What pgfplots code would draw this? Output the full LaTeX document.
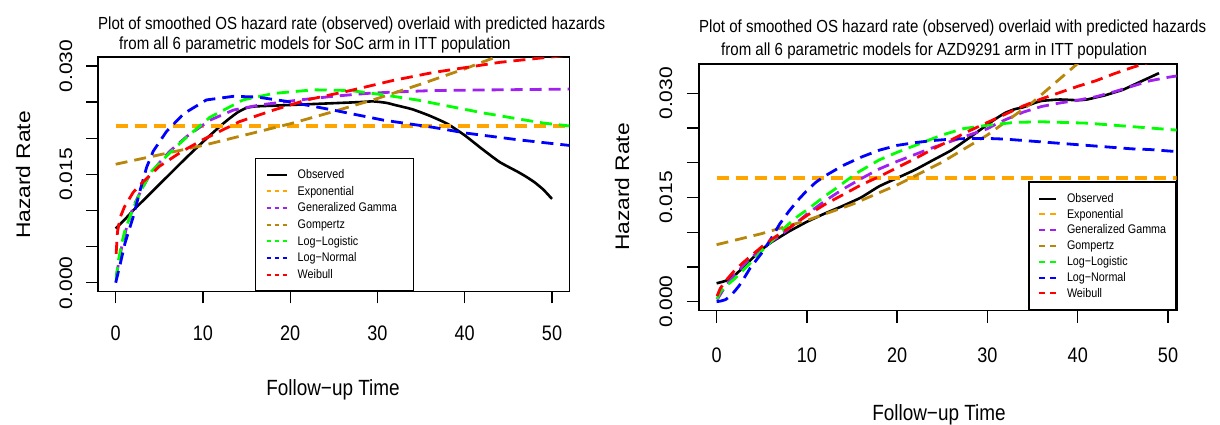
\documentclass[border=0pt]{standalone}
\usepackage{fontspec}
\setmainfont{Liberation Sans}
\usepackage{graphicx}
\usepackage{pgfplots}
\pgfplotsset{compat=1.18}
\newcommand{\sq}[1]{\scalebox{0.86}[1]{#1}}
\newcommand{\sqv}[1]{\scalebox{1}[0.86]{#1}}
\definecolor{rorange}{RGB}{255,165,0}
\definecolor{rpurple}{RGB}{160,32,240}
\definecolor{rgold}{RGB}{184,134,11}
\definecolor{rgreen}{RGB}{0,255,0}
\definecolor{rblue}{RGB}{0,0,255}
\definecolor{rred}{RGB}{255,0,0}
\pgfplotsset{
  hazstyle/.style={
    scale only axis,
    axis line style={line width=1.6pt},
    tick align=outside,
    tick pos=left,
    major tick length=12pt,
    tick style={line width=1.4pt, black},
    xtick={0,10,20,30,40,50},
    xticklabels={\sq{0},\sq{10},\sq{20},\sq{30},\sq{40},\sq{50}},
    ytick={0,0.005,0.01,0.015,0.02,0.025,0.03},
    yticklabels={\sqv{0.000},,,\sqv{0.015},,,\sqv{0.030}},
    scaled y ticks=false,
    ticklabel style={font=\fontsize{21}{21}\selectfont},
    xticklabel style={anchor=center},
    yticklabel style={rotate=90, anchor=center},
    legend cell align=left,
  },
  dsh/.style={line width=2.8pt, dash pattern=on 12pt off 7pt},
  obs/.style={line width=2.6pt, black, smooth, tension=0.3},
}
\begin{document}
\begin{tikzpicture}
\useasboundingbox (0,0) rectangle (1220pt,425pt);
% ---------------- Left: SoC ----------------
\begin{axis}[hazstyle,
  at={(98.25pt,133.6pt)}, anchor=south west,
  width=471.2pt, height=234.1pt,
  xmin=-2, xmax=52, ymin=-0.0012, ymax=0.0312,
  xticklabel shift=29.6pt, yticklabel shift=20.25pt,
  legend image code/.code={\draw[#1] (0pt,0pt) -- (20pt,0pt);},
  legend style={at={(0.3327,0)}, anchor=south west, draw=black, fill=white,
    line width=1.4pt, inner xsep=10pt, inner ysep=7.7pt,
    /tikz/column sep=10pt, /tikz/row sep=0pt,
    nodes={inner sep=0pt, minimum height=16.67pt},
    font=\fontsize{12.5}{12.5}\selectfont},
]
\addlegendimage{black, line width=2pt}
\addlegendentry{\makebox[106pt][l]{\sq{Observed}}}
\addlegendimage{rorange, line width=2pt, dash pattern=on 4pt off 4pt}
\addlegendentry{\makebox[106pt][l]{\sq{Exponential}}}
\addlegendimage{rpurple, line width=2pt, dash pattern=on 4pt off 4pt}
\addlegendentry{\makebox[106pt][l]{\sq{Generalized Gamma}}}
\addlegendimage{rgold, line width=2pt, dash pattern=on 4pt off 4pt}
\addlegendentry{\makebox[106pt][l]{\sq{Gompertz}}}
\addlegendimage{rgreen, line width=2pt, dash pattern=on 4pt off 4pt}
\addlegendentry{\makebox[106pt][l]{\sq{Log−Logistic}}}
\addlegendimage{rblue, line width=2pt, dash pattern=on 4pt off 4pt}
\addlegendentry{\makebox[106pt][l]{\sq{Log−Normal}}}
\addlegendimage{rred, line width=2pt, dash pattern=on 4pt off 4pt}
\addlegendentry{\makebox[106pt][l]{\sq{Weibull}}}
% Observed
\addplot[obs, forget plot] coordinates {(0,0.0075) (1,0.0087) (2,0.0100) (4,0.0124) (6,0.0148) (8,0.0172) (10,0.0195) (12,0.0217) (13,0.0227) (14,0.0236) (15,0.0242) (16,0.0244) (18,0.0245) (20,0.0246) (22,0.0247) (24,0.0248) (26,0.0249) (28,0.0250) (29.5,0.0251) (31,0.0249) (32,0.0246) (34,0.0240) (36,0.0231) (38,0.0220) (40,0.0204) (42,0.0185) (44,0.0167) (46,0.0154) (47,0.0147) (48,0.0139) (49,0.0129) (50,0.0116)};
% Exponential
\addplot[dsh, rorange, line width=3.4pt, forget plot] coordinates {(0,0.0217) (52,0.0217)};
% Generalized Gamma
\addplot[dsh, rpurple, forget plot] coordinates {(0.05,0.0008) (0.3,0.0025) (0.7,0.0050) (1.26,0.0077) (2,0.0105) (3,0.0130) (3.9,0.0149) (5,0.0166) (6.2,0.0182) (8.1,0.0202) (10.8,0.0225) (13.5,0.0239) (16.5,0.0246) (21.1,0.0253) (24.9,0.0258) (28.8,0.0262) (32,0.0264) (36.4,0.0266) (44,0.0267) (52,0.0268)};
% Gompertz
\addplot[dsh, rgold, forget plot] coordinates {(0,0.0164) (5,0.0177) (10,0.0190) (15,0.0205) (20,0.0220) (25,0.0237) (30,0.0255) (35,0.0275) (40,0.0296) (45,0.0319)};
% Log-Logistic
\addplot[dsh, rgreen, forget plot] coordinates {(0.05,0.0005) (0.3,0.0030) (0.7,0.0055) (1.07,0.0073) (2,0.0103) (3,0.0130) (4.1,0.0154) (5.8,0.0175) (7,0.0189) (8.1,0.0201) (10.8,0.0229) (14.6,0.0253) (18.1,0.0262) (22.7,0.0267) (26.9,0.0266) (30.7,0.0260) (34.5,0.0253) (38.3,0.0244) (42.1,0.0235) (46,0.0227) (49,0.0221) (52,0.0217)};
% Log-Normal
\addplot[dsh, rblue, forget plot] coordinates {(0,0.0000) (0.5,0.0025) (1.07,0.0055) (2,0.0091) (2.8,0.0128) (3.55,0.0160) (4.3,0.0182) (5.8,0.0209) (7.8,0.0234) (10.4,0.0253) (13.5,0.0258) (16.2,0.0257) (19.6,0.0251) (24.9,0.0239) (30.7,0.0225) (36.4,0.0215) (40.2,0.0207) (46,0.0198) (52,0.0190)};
% Weibull
\addplot[dsh, rred, forget plot] coordinates {(0.05,0.0040) (0.2,0.0070) (0.5,0.0090) (1,0.0105) (2,0.0125) (3,0.0138) (5,0.0161) (7.5,0.0181) (10,0.0198) (14.2,0.0223) (18.1,0.0239) (21.9,0.0253) (26.9,0.0266) (31.8,0.0280) (36.4,0.0291) (40.2,0.0298) (44,0.0305) (47.9,0.0310) (52,0.0315)};
\end{axis}
% ---------------- Right: AZD9291 ----------------
\begin{axis}[hazstyle,
  at={(698.9pt,114.3pt)}, anchor=south west,
  width=477.8pt, height=246.6pt,
  xmin=-1.96, xmax=50.96, ymin=-0.0013, ymax=0.0342,
  xticklabel shift=32.3pt, yticklabel shift=20.9pt,
  legend image code/.code={\draw[#1] (0pt,0pt) -- (17pt,0pt);},
  legend style={at={(1,0)}, anchor=south east, draw=black, fill=white,
    line width=1.4pt, inner xsep=9pt, inner ysep=8.7pt,
    /tikz/column sep=10pt, /tikz/row sep=0pt,
    nodes={inner sep=0pt, minimum height=15.8pt},
    font=\fontsize{12.5}{12.5}\selectfont},
]
\addlegendimage{black, line width=2pt}
\addlegendentry{\makebox[100pt][l]{\sq{Observed}}}
\addlegendimage{rorange, line width=2pt, dash pattern=on 6pt off 5pt}
\addlegendentry{\makebox[100pt][l]{\sq{Exponential}}}
\addlegendimage{rpurple, line width=2pt, dash pattern=on 6pt off 5pt}
\addlegendentry{\makebox[100pt][l]{\sq{Generalized Gamma}}}
\addlegendimage{rgold, line width=2pt, dash pattern=on 6pt off 5pt}
\addlegendentry{\makebox[100pt][l]{\sq{Gompertz}}}
\addlegendimage{rgreen, line width=2pt, dash pattern=on 6pt off 5pt}
\addlegendentry{\makebox[100pt][l]{\sq{Log−Logistic}}}
\addlegendimage{rblue, line width=2pt, dash pattern=on 6pt off 5pt}
\addlegendentry{\makebox[100pt][l]{\sq{Log−Normal}}}
\addlegendimage{rred, line width=2pt, dash pattern=on 6pt off 5pt}
\addlegendentry{\makebox[100pt][l]{\sq{Weibull}}}
% Observed
\addplot[obs, forget plot] coordinates {(0,0.00265) (1,0.0030) (2,0.0038) (3,0.0050) (4,0.0063) (5,0.0075) (6,0.0085) (7,0.0093) (8,0.0101) (9,0.0108) (10,0.0115) (12,0.0127) (14,0.0138) (16,0.0150) (18,0.0166) (20,0.0178) (22,0.0190) (24,0.0204) (26,0.0218) (28,0.0236) (30,0.0255) (31,0.0264) (32,0.0272) (33,0.0277) (34,0.0280) (35,0.0285) (36,0.0289) (38,0.0291) (40,0.0290) (41,0.0291) (42,0.0294) (43,0.0297) (44,0.0301) (45,0.0305) (46,0.0311) (47,0.0317) (48,0.0323) (49,0.0329)};
% Exponential
\addplot[dsh, rorange, line width=3.4pt, forget plot] coordinates {(0,0.0178) (51,0.0178)};
% Generalized Gamma
\addplot[dsh, rpurple, forget plot] coordinates {(0.05,0.0003) (0.4,0.0010) (1,0.0023) (2,0.0038) (3,0.0053) (4,0.0065) (5,0.0076) (6,0.0086) (7,0.0095) (8,0.0105) (9,0.0115) (10,0.0126) (12,0.0145) (14,0.0162) (16,0.0177) (18,0.0191) (20,0.0202) (22,0.0212) (24,0.0222) (26,0.0231) (28,0.0240) (30,0.0249) (31,0.0256) (32,0.0262) (34,0.0273) (36,0.0281) (38,0.0286) (40,0.0290) (42,0.0295) (44,0.0302) (46,0.0310) (48,0.0318) (50,0.0323) (51,0.0325)};
% Gompertz
\addplot[dsh, rgold, forget plot] coordinates {(0,0.0082) (5,0.0098) (10,0.0117) (15,0.0140) (20,0.0168) (25,0.0201) (30,0.0240) (35,0.0287) (40,0.0343) (42,0.0369)};
% Log-Logistic
\addplot[dsh, rgreen, forget plot] coordinates {(0.05,0.0004) (0.4,0.0014) (1,0.0022) (2,0.0033) (3,0.0046) (4,0.0059) (5,0.0073) (6,0.0086) (7,0.0099) (8,0.0112) (9,0.0123) (10,0.0132) (10.7,0.0139) (12,0.0152) (13,0.0161) (15.5,0.0185) (18,0.0204) (20,0.0215) (22,0.0225) (25,0.0240) (27.3,0.0249) (30,0.0254) (33,0.0258) (36,0.0259) (38.4,0.0258) (41,0.0257) (44,0.0254) (47,0.0251) (50,0.0248) (51,0.0247)};
% Log-Normal
\addplot[dsh, rblue, forget plot] coordinates {(0,0.0000) (0.5,0.0001) (1,0.0003) (1.5,0.0008) (2,0.0015) (2.5,0.0023) (3,0.0033) (3.7,0.0048) (5,0.0070) (6,0.0090) (7,0.0112) (8,0.0130) (9,0.0146) (10,0.0160) (11,0.0172) (12,0.0181) (14,0.0196) (16,0.0208) (18,0.0218) (20,0.0225) (22,0.0229) (24,0.0232) (26,0.0234) (28,0.0235) (30,0.0235) (32,0.0234) (34,0.0232) (36,0.0230) (38,0.0228) (40,0.0226) (42,0.0224) (44,0.0222) (46,0.0220) (48,0.0219) (51,0.0216)};
% Weibull
\addplot[dsh, rred, forget plot] coordinates {(0.05,0.0008) (0.4,0.0019) (1,0.0030) (2,0.0045) (3,0.0057) (4,0.0068) (5,0.0079) (6,0.0089) (8,0.0106) (10,0.0124) (12,0.0140) (14,0.0154) (16,0.0168) (18,0.0180) (20,0.0193) (22,0.0206) (24,0.0220) (26,0.0233) (28,0.0246) (30,0.0258) (32,0.0270) (34,0.0282) (36,0.0292) (38,0.0301) (40,0.0310) (42,0.0318) (44,0.0328) (46,0.0337) (48,0.0345) (50,0.0352)};
\end{axis}
% ---------------- Titles and axis labels ----------------
\begin{scope}[every node/.style={inner sep=0pt}]
\node[anchor=base west, font=\fontsize{17.5}{17.5}\selectfont] at (98pt,395.7pt) {\sq{Plot of smoothed OS hazard rate (observed) overlaid with predicted hazards}};
\node[anchor=base west, font=\fontsize{17.5}{17.5}\selectfont] at (119pt,375pt) {\sq{from all 6 parametric models for SoC arm in ITT population}};
\node[anchor=base west, font=\fontsize{17.5}{17.5}\selectfont] at (699pt,392pt) {\sq{Plot of smoothed OS hazard rate (observed) overlaid with predicted hazards}};
\node[anchor=base west, font=\fontsize{17.5}{17.5}\selectfont] at (721pt,369pt) {\sq{from all 6 parametric models for AZD9291 arm in ITT population}};
\node[rotate=90, font=\fontsize{22.8}{22.8}\selectfont] at (23pt,250pt) {\sqv{Hazard Rate}};
\node[rotate=90, font=\fontsize{22.8}{22.8}\selectfont] at (622pt,238pt) {\sqv{Hazard Rate}};
\node[anchor=base, font=\fontsize{22}{22}\selectfont] at (333pt,29.1pt) {\sq{Follow−up Time}};
\node[anchor=base, font=\fontsize{22}{22}\selectfont] at (939pt,4.1pt) {\sq{Follow−up Time}};
\end{scope}
\end{tikzpicture}
\end{document}
